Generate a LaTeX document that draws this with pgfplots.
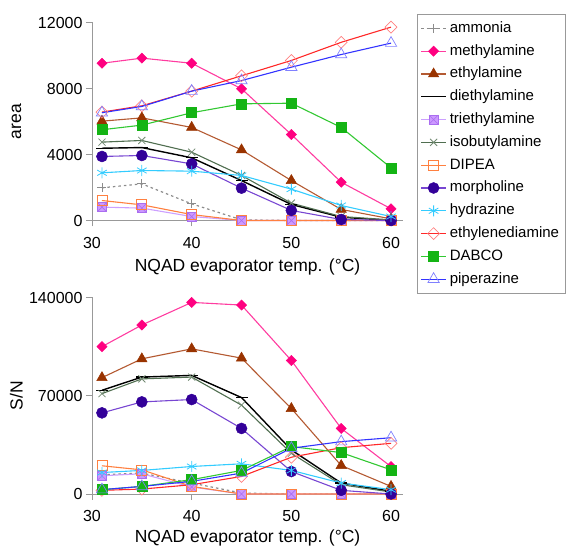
\documentclass[border=0pt]{standalone}
\usepackage{pgfplots}
\pgfplotsset{compat=1.18}
\usepackage{pgfplotstable}
\usepackage{fontspec}
\setmainfont{Liberation Sans}

\definecolor{amm}{RGB}{140,140,140}
\definecolor{methL}{RGB}{255,60,160}
\definecolor{methM}{RGB}{255,0,128}
\definecolor{ethL}{RGB}{180,90,50}
\definecolor{ethM}{RGB}{153,51,0}
\definecolor{triL}{RGB}{204,160,255}
\definecolor{triM}{RGB}{204,153,255}
\definecolor{triD}{RGB}{170,110,240}
\definecolor{isoL}{RGB}{80,110,80}
\definecolor{dipea}{RGB}{255,128,64}
\definecolor{morL}{RGB}{120,70,210}
\definecolor{morM}{RGB}{51,0,153}
\definecolor{hyd}{RGB}{51,204,255}
\definecolor{edaL}{RGB}{255,40,40}
\definecolor{edaM}{RGB}{255,128,128}
\definecolor{dabL}{RGB}{50,200,50}
\definecolor{dabM}{RGB}{20,180,20}
\definecolor{pipL}{RGB}{51,51,255}
\definecolor{pipM}{RGB}{128,128,255}

\pgfdeclareplotmark{sqx}{%
  \pgfpathrectangle{\pgfqpoint{-\pgfplotmarksize}{-\pgfplotmarksize}}{\pgfqpoint{2\pgfplotmarksize}{2\pgfplotmarksize}}%
  \pgfusepathqfillstroke
  \pgfpathmoveto{\pgfqpoint{-\pgfplotmarksize}{-\pgfplotmarksize}}\pgfpathlineto{\pgfqpoint{\pgfplotmarksize}{\pgfplotmarksize}}%
  \pgfpathmoveto{\pgfqpoint{-\pgfplotmarksize}{\pgfplotmarksize}}\pgfpathlineto{\pgfqpoint{\pgfplotmarksize}{-\pgfplotmarksize}}%
  \pgfusepathqstroke}

\pgfplotstableread{
x    amm   meth   eth   dieth  trieth iso   dipea mor   hyd   eda    dab   pip
31   1980  9530   6020  4380   810    4750  1210  3880  2890  6570   5500  6530
35   2220  9840   6220  4420   750    4850  950   3940  3030  6950   5780  6910
40   1010  9530   5640  3800   240    4140  360   3430  2990  7840   6530  7840
45   40    7980   4280  2420   0      2730  0     1960  2730  8770   7070  8480
50   0     5210   2420  970    0      1050  0     610   1900  9700   7110  9290
55   0     2320   670   200    0      240   0     60    910   10800  5640  10060
60   0     710    100   0      0      40    0     0     240   11720  3190  10750
}\topdata

\pgfplotstableread{
x    amm    meth    eth     dieth  trieth iso    dipea  mor    hyd    eda    dab    pip
31   13700  105000  82900   73900  13000  71500  20100  57800  15300  2600   3100   3100
35   14900  120400  96300   83300  14400  82000  17200  65600  16800  3500   5400   5400
40   7800   136500  103400  84500  5000   83300  5400   67300  19600  6600   10200  9000
45   700    134600  96800   68700  0      63300  0      46700  21500  12500  16800  14900
50   0      95100   60900   31400  0      29000  0      16000  16800  26200  33800  32600
55   0      46700   20300   7800   0      6600   0      2600   7800   33000  29500  37300
60   0      19500   5400    1900   0      1400   0      0      3100   36100  17200  40100
}\botdata

\pgfplotsset{
  myax/.style={
    scale only axis, width=311pt, xmin=30, xmax=61.2, ymin=0, clip=false,
    axis x line*=bottom, axis y line*=left,
    axis line style={draw=gray!80, line width=0.8pt, -},
    xtick={30,40,50,60}, tick align=outside, major tick length=6pt,
    tick style={draw=gray!80, line width=0.8pt},
    ticklabel style={font=\fontsize{16}{18}\selectfont},
    xticklabel style={yshift=-7pt},
    /pgf/number format/fixed, /pgf/number format/precision=0,
    /pgf/number format/assume math mode=true,
    /pgf/number format/1000 sep={},
    scaled y ticks=false, scaled x ticks=false,
    xlabel={NQAD evaporator temp. (°C)},
    every axis y label/.style={at={(axis description cs:-0.243,0.5)}, rotate=90, anchor=center, font=\fontsize{17.5}{20}\selectfont},
  },
  sAmm/.style={draw=amm, line width=1.2pt, dash pattern=on 2.5pt off 3pt, mark=+, mark size=4.5pt, mark options={solid, draw=amm, line width=0.8pt}},
  sMeth/.style={draw=methL, line width=1.1pt, mark=square*, mark size=3.6pt, mark options={rotate=45, fill=methM, draw=methM, line width=0.5pt}},
  sEth/.style={draw=ethL, line width=1.1pt, mark=triangle*, mark size=6pt, mark options={fill=ethM, draw=ethM, line width=0.5pt}},
  sDieth/.style={draw=black, line width=1.4pt, mark=-, mark size=6pt, mark options={draw=black, line width=1.4pt}},
  sTri/.style={draw=triL, line width=1.1pt, mark=sqx, mark size=4.5pt, mark options={fill=triM, draw=triD, line width=0.6pt}},
  sIso/.style={draw=isoL, line width=1.1pt, mark=x, mark size=5pt, mark options={draw=isoL!80, line width=0.8pt}},
  sDipea/.style={draw=dipea, line width=1.1pt, mark=square, mark size=5pt, mark options={fill=white, draw=dipea, line width=0.7pt}},
  sMor/.style={draw=morL, line width=1.1pt, mark=*, mark size=5.5pt, mark options={fill=morM, draw=morM, line width=0.5pt}},
  sHyd/.style={draw=hyd, line width=1.1pt, mark=asterisk, mark size=5.5pt, mark options={draw=hyd, line width=0.8pt}},
  sEda/.style={draw=edaL, line width=1.1pt, mark=square, mark size=4.2pt, mark options={rotate=45, fill=white, draw=edaM, line width=0.7pt}},
  sDab/.style={draw=dabL, line width=1.1pt, mark=square*, mark size=5pt, mark options={fill=dabM, draw=dabM, line width=0.5pt}},
  sPip/.style={draw=pipL, line width=1.1pt, mark=triangle, mark size=6.5pt, mark options={fill=white, draw=pipM, line width=0.7pt}},
}

\begin{document}
\begin{tikzpicture}
\begin{axis}[myax, at={(92pt,328.5pt)}, anchor=south west, height=198pt,
  ymax=12000, ytick={0,4000,8000,12000}, ylabel={area},
  every axis x label/.style={at={(axis description cs:0.5,0)}, anchor=base, yshift=-51.5pt, font=\fontsize{17.5}{20}\selectfont},
  legend style={at={(axis description cs:1.045,1.045)}, anchor=north west,
    draw=gray!80, line width=0.8pt, font=\fontsize{15}{17}\selectfont,
    inner sep=3pt,
    nodes={inner xsep=3pt, inner ysep=4.4pt, text height=11pt, text depth=3pt}},
  legend cell align=left,
  legend image code/.code={\draw[mark repeat=2, mark phase=2] plot coordinates {(0pt,0pt) (12.5pt,0pt) (25pt,0pt)};},
]
\addplot[sAmm] table[x=x,y=amm]{\topdata};
\addlegendentry{ammonia}
\addplot[sMeth] table[x=x,y=meth]{\topdata};
\addlegendentry{methylamine}
\addplot[sEth] table[x=x,y=eth]{\topdata};
\addlegendentry{ethylamine}
\addplot[sDieth] table[x=x,y=dieth]{\topdata};
\addlegendentry{diethylamine}
\addplot[sTri] table[x=x,y=trieth]{\topdata};
\addlegendentry{triethylamine}
\addplot[sIso] table[x=x,y=iso]{\topdata};
\addlegendentry{isobutylamine}
\addplot[sDipea] table[x=x,y=dipea]{\topdata};
\addlegendentry{DIPEA}
\addplot[sMor] table[x=x,y=mor]{\topdata};
\addlegendentry{morpholine}
\addplot[sHyd] table[x=x,y=hyd]{\topdata};
\addlegendentry{hydrazine}
\addplot[sEda] table[x=x,y=eda]{\topdata};
\addlegendentry{ethylenediamine}
\addplot[sDab] table[x=x,y=dab]{\topdata};
\addlegendentry{DABCO}
\addplot[sPip] table[x=x,y=pip]{\topdata};
\addlegendentry{piperazine}
\end{axis}
\begin{axis}[myax, at={(92pt,55pt)}, anchor=south west, height=196.5pt,
  ymax=140000, ytick={0,70000,140000}, ylabel={S/N},
  every axis x label/.style={at={(axis description cs:0.5,0)}, anchor=base, yshift=-49pt, font=\fontsize{17.5}{20}\selectfont},
]
\addplot[sAmm] table[x=x,y=amm]{\botdata};
\addplot[sMeth] table[x=x,y=meth]{\botdata};
\addplot[sEth] table[x=x,y=eth]{\botdata};
\addplot[sDieth] table[x=x,y=dieth]{\botdata};
\addplot[sTri] table[x=x,y=trieth]{\botdata};
\addplot[sIso] table[x=x,y=iso]{\botdata};
\addplot[sDipea] table[x=x,y=dipea]{\botdata};
\addplot[sMor] table[x=x,y=mor]{\botdata};
\addplot[sHyd] table[x=x,y=hyd]{\botdata};
\addplot[sEda] table[x=x,y=eda]{\botdata};
\addplot[sDab] table[x=x,y=dab]{\botdata};
\addplot[sPip] table[x=x,y=pip]{\botdata};
\end{axis}
\path (0pt,0pt) rectangle (574pt,549pt);
\end{tikzpicture}
\end{document}
